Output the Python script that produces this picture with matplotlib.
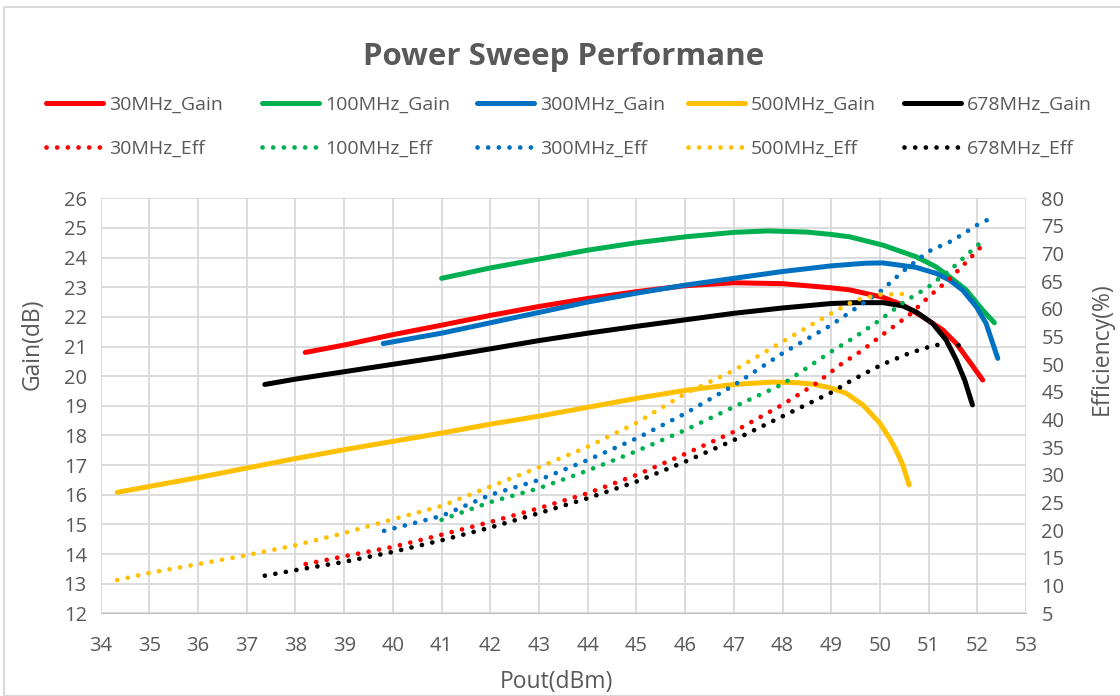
import numpy as np
import matplotlib
matplotlib.use("Agg")
import matplotlib.pyplot as plt
from matplotlib.patches import Rectangle

plt.rcParams['font.family'] = ['Open Sans', 'DejaVu Sans']

# gain curves (Pout dBm, Gain dB)
g30_x = [38.2, 39, 40, 41, 42, 43, 44, 45, 46, 47, 48, 49, 49.38, 50.06, 50.47, 50.88, 51.29, 51.57, 51.84, 52.11]
g30_y = [20.8, 21.05, 21.4, 21.72, 22.05, 22.35, 22.62, 22.85, 23.05, 23.15, 23.12, 22.98, 22.91, 22.66, 22.4, 22.0, 21.56, 21.1, 20.49, 19.87]

g100_x = [41, 42, 43, 44, 45, 46, 47, 47.7, 48.5, 49, 49.38, 50.06, 50.74, 51.15, 51.43, 51.77, 52.11, 52.35]
g100_y = [23.3, 23.65, 23.95, 24.25, 24.5, 24.7, 24.85, 24.9, 24.86, 24.78, 24.7, 24.42, 24.03, 23.69, 23.35, 22.91, 22.23, 21.8]

g300_x = [39.8, 41, 42, 43, 44, 45, 46, 47, 48, 49, 49.7, 50.06, 50.74, 51.15, 51.43, 51.7, 51.98, 52.18, 52.42]
g300_y = [21.1, 21.45, 21.8, 22.15, 22.5, 22.8, 23.07, 23.3, 23.53, 23.72, 23.81, 23.82, 23.67, 23.47, 23.24, 22.9, 22.34, 21.78, 20.6]

g500_x = [34.34, 35, 36, 37, 38, 39, 40, 41, 42, 43, 44, 45, 46, 47, 47.8, 48.3, 48.62, 49, 49.31, 49.65, 50, 50.2, 50.33, 50.47, 50.6]
g500_y = [16.08, 16.28, 16.58, 16.9, 17.22, 17.52, 17.8, 18.08, 18.38, 18.65, 18.95, 19.25, 19.52, 19.72, 19.8, 19.78, 19.73, 19.6, 19.42, 19.03, 18.41, 17.9, 17.51, 17.0, 16.33]

g678_x = [37.37, 38, 39, 40, 41, 42, 43, 44, 45, 46, 47, 48, 49, 49.5, 50.06, 50.47, 50.74, 51.08, 51.36, 51.57, 51.74, 51.9]
g678_y = [19.72, 19.9, 20.15, 20.4, 20.65, 20.92, 21.2, 21.45, 21.68, 21.9, 22.12, 22.3, 22.45, 22.48, 22.48, 22.37, 22.17, 21.78, 21.22, 20.54, 19.87, 19.03]

# efficiency curves (Pout dBm, Eff %)
e30_x = [38.21, 39, 40, 41, 42, 43, 44, 45, 46, 47, 48, 48.7, 49.2, 49.65, 50, 50.6, 51.08, 51.43, 51.7, 52.05]
e30_y = [13.9, 15.3, 17.0, 19.2, 21.5, 24.0, 26.7, 30.0, 33.8, 37.8, 42.7, 46.6, 50.0, 52.6, 55.0, 58.9, 62.8, 65.4, 67.8, 71.0]

e100_x = [41, 42, 43, 44, 45, 46, 47, 48, 49, 49.5, 50, 50.5, 51, 51.5, 52, 52.18]
e100_y = [21.9, 25.1, 27.6, 30.8, 34.3, 38.1, 42.3, 46.4, 52.3, 55.0, 58.0, 61.3, 64.0, 67.5, 71.5, 72.6]

e300_x = [39.82, 41, 42, 43, 44, 45, 46, 47, 48, 49, 49.5, 50, 50.5, 51, 51.5, 52, 52.21]
e300_y = [19.9, 22.6, 26.4, 29.1, 32.7, 36.6, 41.1, 46.2, 52.0, 57.1, 60.1, 63.1, 67.0, 70.4, 72.4, 75.2, 76.1]

e500_x = [34.34, 35, 36, 37, 38, 39, 40, 41, 42, 43, 44, 45, 46, 47, 48, 49, 49.5, 50, 50.45]
e500_y = [11.0, 12.3, 13.9, 15.5, 17.3, 19.5, 22.0, 24.4, 27.9, 31.4, 35.1, 39.4, 44.7, 48.9, 54.1, 59.2, 61.6, 62.6, 62.7]

e678_x = [37.37, 38, 39, 40, 41, 42, 43, 44, 45, 46, 47, 48, 49, 49.44, 50.03, 50.6, 51.1, 51.35, 51.57, 51.77]
e678_y = [11.8, 12.8, 14.3, 16.1, 18.2, 20.5, 23.1, 25.8, 28.8, 32.4, 36.3, 40.6, 44.9, 47.2, 49.9, 52.0, 53.4, 53.7, 53.5, 53.2]

names = ['30MHz', '100MHz', '300MHz', '500MHz', '678MHz']
colors = ['#ff0000', '#00b050', '#0070c0', '#ffc000', '#000000']
gains = [(g30_x, g30_y), (g100_x, g100_y), (g300_x, g300_y), (g500_x, g500_y), (g678_x, g678_y)]
effs = [(e30_x, e30_y), (e100_x, e100_y), (e300_x, e300_y), (e500_x, e500_y), (e678_x, e678_y)]

grey = '#595959'
W, H = 1120, 696
fig = plt.figure(figsize=(W / 100, H / 100), dpi=100)
ax = fig.add_axes([0.0899, 0.1188, 0.8262, 0.5963])
ax2 = ax.twinx()

pairs = []
for name, c, (gx, gy), (ex, ey) in zip(names, colors, gains, effs):
    h1, = ax.plot(gx, gy, color=c, lw=3.6, solid_capstyle='round', label=name + '_Gain')
    h2, = ax2.plot(ex, ey, color=c, lw=3.4, linestyle=(0, (0.01, 2.25)),
                   dash_capstyle='round', label=name + '_Eff')
    pairs.append((h1, h2))

ax.set_xlim(34, 53)
ax.set_ylim(12, 26)
ax2.set_ylim(5, 80)
ax.set_xticks(range(34, 54))
ax.set_yticks(range(12, 27))
ax2.set_yticks(range(5, 81, 5))
ax.grid(True, color='#d9d9d9', lw=1.3)
ax.set_axisbelow(True)
for a in (ax, ax2):
    a.tick_params(length=0, labelsize=14.5, colors=grey)
    for s in a.spines.values():
        s.set_visible(False)
ax.tick_params(axis='x', pad=16)
ax.tick_params(axis='y', pad=10)
ax2.tick_params(axis='y', pad=11)
ax.spines['bottom'].set_visible(True)
ax.spines['bottom'].set_color('#bfbfbf')

ax.set_xlabel('Pout(dBm)', fontsize=16.5, color=grey)
ax.xaxis.set_label_coords(0.492, -0.137)
ax.set_ylabel('Gain(dB)', fontsize=16.5, color=grey)
ax.yaxis.set_label_coords(-0.061, 0.649)
ax2.set_ylabel('Efficiency(%)', fontsize=16.5, color=grey)
ax2.yaxis.set_label_coords(1.069, 0.638)

fig.text(564 / W, 1 - 57 / H, 'Power Sweep Performane', ha='center', va='center',
         fontsize=22.5, fontweight='bold', color=grey)

# one small legend per column so the columns sit at fixed x positions
col_x = [46, 262, 477, 688, 904]
for x0, (h1, h2) in zip(col_x, pairs):
    fig.legend(handles=[h1, h2], loc='center left', bbox_to_anchor=(x0 / W, 1 - 127 / H),
               frameon=False, fontsize=14, handlelength=2.95, handletextpad=0.3,
               labelspacing=1.32, borderpad=0, borderaxespad=0, labelcolor=grey)

fig.patches.append(Rectangle((4 / W, 0), 1.2, 1 - 7 / H, transform=fig.transFigure,
                             fill=False, edgecolor='#d9d9d9', lw=1.5))

fig.savefig('out.png', dpi=100)
